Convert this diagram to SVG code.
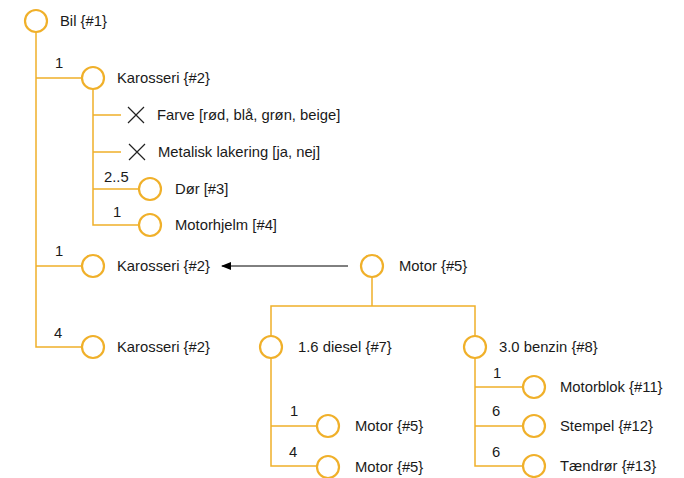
<svg xmlns="http://www.w3.org/2000/svg" width="684" height="478" viewBox="0 0 684 478">
<defs>
<style>
.n{fill:#fff;stroke:#F0B02A;stroke-width:2.2}
.l{fill:none;stroke:#F0B02A;stroke-width:1.5}
.x{stroke:#222;stroke-width:1.2}
text{font-family:"Liberation Sans",Arial,sans-serif;font-size:14.8px;fill:#1a1a1a}
</style>
<marker id="ah" markerWidth="10" markerHeight="8" refX="9" refY="4" orient="auto" markerUnits="userSpaceOnUse">
<path d="M0,0 L10,4 L0,8 Z" fill="#000"/>
</marker>
</defs>
<rect width="684" height="478" fill="#fff"/>
<g id="connectors">
<path class="l" d="M36,32 V347 H82 M36,78 H82 M36,266 H82"/>
<path class="l" d="M93,89 V225 H139 M93,115 H121 M93,152 H121 M93,189 H139"/>
<path class="l" d="M372,277 V306 M271,336 V306 H475 V336"/>
<path class="l" d="M271,358 V466 H317 M271,426 H317"/>
<path class="l" d="M475,358 V466 H523 M475,387 H523 M475,426 H523"/>
<line x1="348" y1="266" x2="222" y2="266" stroke="#000" stroke-width="1" marker-end="url(#ah)"/>
<text x="55" y="68">1</text>
<text x="55" y="256">1</text>
<text x="54" y="338">4</text>
<text x="104" y="182">2..5</text>
<text x="113" y="217">1</text>
<text x="290" y="416">1</text>
<text x="289" y="457">4</text>
<text x="493" y="378">1</text>
<text x="492" y="416">6</text>
<text x="492" y="457">6</text>
</g>
<g id="n1"><circle class="n" cx="36" cy="21" r="11"/><text x="60" y="26">Bil {#1}</text></g>
<g id="n2"><circle class="n" cx="93" cy="78" r="11"/><text x="117" y="83">Karosseri {#2}</text></g>
<g id="farve"><path class="x" d="M128,107 L144,123 M144,107 L128,123"/><text x="157" y="120">Farve [rød, blå, grøn, beige]</text></g>
<g id="metal"><path class="x" d="M129,144 L145,160 M145,144 L129,160"/><text x="158" y="157">Metalisk lakering [ja, nej]</text></g>
<g id="n3"><circle class="n" cx="150" cy="189" r="11"/><text x="175" y="194">Dør [#3]</text></g>
<g id="n4"><circle class="n" cx="150" cy="225" r="11"/><text x="175" y="230">Motorhjelm [#4]</text></g>
<g id="n2b"><circle class="n" cx="93" cy="266" r="11"/><text x="117" y="271">Karosseri {#2}</text></g>
<g id="n2c"><circle class="n" cx="93" cy="347" r="11"/><text x="117" y="352">Karosseri {#2}</text></g>
<g id="n5"><circle class="n" cx="372" cy="266" r="11"/><text x="399" y="271">Motor {#5}</text></g>
<g id="n7"><circle class="n" cx="271" cy="347" r="11"/><text x="298" y="352">1.6 diesel {#7}</text></g>
<g id="n8"><circle class="n" cx="475" cy="347" r="11"/><text x="499" y="352">3.0 benzin {#8}</text></g>
<g id="n5b"><circle class="n" cx="328" cy="426" r="11"/><text x="355" y="431">Motor {#5}</text></g>
<g id="n5c"><circle class="n" cx="328" cy="467" r="11"/><text x="355" y="472">Motor {#5}</text></g>
<g id="n11"><circle class="n" cx="534" cy="387" r="11"/><text x="560" y="392">Motorblok {#11}</text></g>
<g id="n12"><circle class="n" cx="534" cy="426" r="11"/><text x="560" y="431">Stempel {#12}</text></g>
<g id="n13"><circle class="n" cx="534" cy="466" r="11"/><text x="560" y="471">Tændrør {#13}</text></g>
</svg>
